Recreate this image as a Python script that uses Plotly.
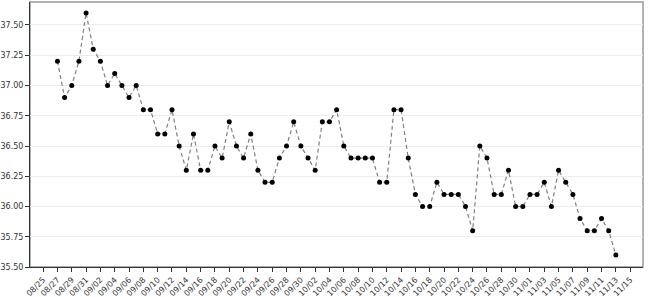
import plotly.graph_objects as go
import pandas as pd

start_date = "2024-08-27"
values = [37.2, 36.9, 37.0, 37.2, 37.6, 37.3, 37.2, 37.0, 37.1, 37.0, 36.9, 37.0,
          36.8, 36.8, 36.6, 36.6, 36.8, 36.5, 36.3, 36.6, 36.3, 36.3, 36.5, 36.4,
          36.7, 36.5, 36.4, 36.6, 36.3, 36.2, 36.2, 36.4, 36.5, 36.7, 36.5, 36.4,
          36.3, 36.7, 36.7, 36.8, 36.5, 36.4, 36.4, 36.4, 36.4, 36.2, 36.2, 36.8,
          36.8, 36.4, 36.1, 36.0, 36.0, 36.2, 36.1, 36.1, 36.1, 36.0, 35.8, 36.5,
          36.4, 36.1, 36.1, 36.3, 36.0, 36.0, 36.1, 36.1, 36.2, 36.0, 36.3, 36.2,
          36.1, 35.9, 35.8, 35.8, 35.9, 35.8, 35.6]
dates = pd.date_range(start_date, periods=len(values), freq="D")
y_ticks = [35.50, 35.75, 36.00, 36.25, 36.50, 36.75, 37.00, 37.25, 37.50]

fig = go.Figure()
fig.add_trace(go.Scatter(
    x=dates, y=values, mode="lines+markers",
    line=dict(color="#808080", width=1.2, dash="4px,3px"),
    marker=dict(color="black", size=5),
    showlegend=False,
))

fig.update_layout(
    width=650, height=297,
    margin=dict(l=30, r=7, t=2, b=30, autoexpand=False),
    paper_bgcolor="white", plot_bgcolor="white",
    font=dict(family="DejaVu Sans", size=8, color="#333"),
    shapes=[dict(type="rect", xref="paper", yref="paper", x0=0, y0=0, x1=1, y1=1,
                 line=dict(color="#999", width=1.5), layer="below")],
)
fig.update_xaxes(
    range=["2024-08-23 04:00", "2024-11-16 19:00"],
    tickmode="linear", tick0="2024-08-25", dtick=2 * 86400000,
    tickformat="%m/%d", tickangle=-45,
    ticks="outside", ticklen=4, tickcolor="#333",
    showline=True, linecolor="#333", linewidth=1,
    showgrid=False, zeroline=False,
    tickfont=dict(size=8),
)
fig.update_yaxes(
    range=[35.5, 37.69],
    tickvals=y_ticks, ticktext=[f"{v:.2f}" for v in y_ticks],
    ticks="outside", ticklen=4, tickcolor="#333",
    showline=True, linecolor="#333", linewidth=1,
    showgrid=True, gridcolor="#ececec", gridwidth=1,
    zeroline=False,
    tickfont=dict(size=8),
)

fig.write_html("out.html")
